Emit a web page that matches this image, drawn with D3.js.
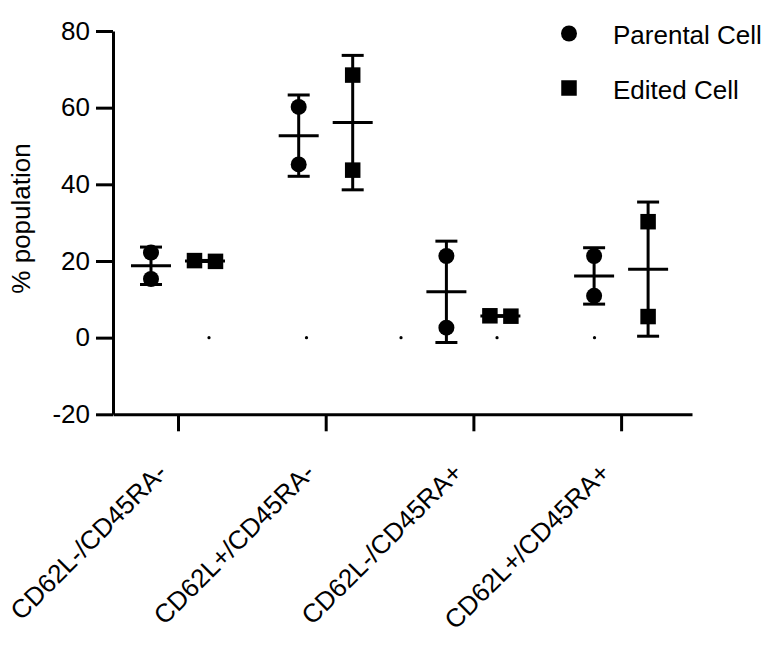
<!DOCTYPE html>
<meta charset="utf-8">
<style>
body { margin: 0; background: #fff; }
text { font-family: "Liberation Sans", Arial, sans-serif; fill: #000; }
</style>
<svg width="768" height="645"></svg>
<script src="https://d3js.org/d3.v7.min.js"></script>
<script>

// data (two replicates per group)
var categories = ["CD62L-/CD45RA-", "CD62L+/CD45RA-", "CD62L-/CD45RA+", "CD62L+/CD45RA+"];
var seriesNames = ["Parental Cell", "Edited Cell"];
var parental = [[22.2, 15.3], [60.2, 45.2], [21.3, 2.6], [21.3, 10.9]];
var edited = [[20.1, 19.9], [68.5, 43.7], [5.7, 5.6], [30.25, 5.5]];
var yTicks = [-20, 0, 20, 40, 60, 80];
// stray zero-valued marks, position in category units
var zeroMarks = [0.21, 0.87, 1.51, 2.16, 2.82];

var svg = d3.select("svg");
var fontSize = 26;

var x = d3.scaleLinear().domain([-0.44, 3.48]).range([113, 692]);
var y = d3.scaleLinear().domain([-20, 80]).range([414.3, 31]);

var series = [
  {name: seriesNames[0], values: parental, shape: "circle", offset: -27},
  {name: seriesNames[1], values: edited, shape: "square", offset: 27}
];

var markSize = 16;

function drawMark(sel, shape, cx, cy) {
  if (shape == "circle") {
    sel.append("circle").attr("cx", cx).attr("cy", cy).attr("r", markSize / 2).attr("fill", "#000");
  } else {
    sel.append("rect").attr("x", cx - 7.75).attr("y", cy - 7.75)
      .attr("width", 15.5).attr("height", 15.5).attr("fill", "#000");
  }
}

// axes
var yAxis = svg.append("g")
    .attr("transform", "translate(" + x.range()[0] + ",0)")
    .call(d3.axisLeft(y).tickValues(yTicks).tickSize(17).tickSizeOuter(0).tickPadding(6)
      .tickFormat(function(d) { return String(d); }));

var xAxis = svg.append("g")
    .attr("transform", "translate(0," + y(-20) + ")")
    .call(d3.axisBottom(x).tickValues([0, 1, 2, 3]).tickSize(17).tickSizeOuter(0)
      .tickFormat(function(d) { return categories[d]; }));

[yAxis, xAxis].forEach(function(a) {
  a.select(".domain").attr("stroke", "#000").attr("stroke-width", 3);
  a.selectAll(".tick line").attr("stroke", "#000").attr("stroke-width", 3);
  a.selectAll("text").attr("font-size", fontSize).attr("fill", "#000")
    .attr("font-family", "'Liberation Sans', Arial, sans-serif");
});

xAxis.selectAll(".tick text")
    .attr("x", 0).attr("y", 0).attr("dy", 0)
    .attr("text-anchor", "end")
    .attr("transform", "translate(-10,60) rotate(-45)");

svg.append("text")
    .attr("transform", "translate(30,218.5) rotate(-90)")
    .attr("text-anchor", "middle")
    .attr("font-size", fontSize)
    .text("% population");

// zero marks
svg.append("g").selectAll("circle")
  .data(zeroMarks)
  .enter().append("circle")
    .attr("cx", function(d) { return x(d); })
    .attr("cy", y(0))
    .attr("r", 1.6)
    .attr("fill", "#000");

// points, mean and SD
var plot = svg.append("g");
series.forEach(function(s) {
  s.values.forEach(function(vals, i) {
    var cx = x(i) + s.offset;
    var mean = d3.mean(vals), sd = d3.deviation(vals);
    var g = plot.append("g");

    var ys = vals.map(function(v) { return y(v); });
    var spread = Math.abs(ys[0] - ys[1]) < markSize;
    vals.forEach(function(v, j) {
      var px = spread ? cx + (j == 0 ? -10.5 : 10.5) : cx;
      drawMark(g, s.shape, px, y(v));
    });

    g.append("line").attr("x1", cx).attr("x2", cx)
      .attr("y1", y(mean + sd)).attr("y2", y(mean - sd));
    [mean + sd, mean - sd].forEach(function(v) {
      g.append("line").attr("x1", cx - 11).attr("x2", cx + 11)
        .attr("y1", y(v)).attr("y2", y(v));
    });
    g.append("line").attr("x1", cx - 20).attr("x2", cx + 20)
      .attr("y1", y(mean)).attr("y2", y(mean));

    g.selectAll("line").attr("stroke", "#000").attr("stroke-width", 3);
  });
});

// legend
var legend = svg.append("g")
  .selectAll("g")
  .data(series)
  .enter().append("g")
    .attr("transform", function(d, i) { return "translate(569," + (33.5 + i * 54.5) + ")"; });

legend.each(function(d) { drawMark(d3.select(this), d.shape, 0, 0); });

legend.append("text")
    .attr("x", 44)
    .attr("y", 1.5)
    .attr("dy", "0.35em")
    .attr("font-size", fontSize)
    .text(function(d) { return d.name; });

</script>
